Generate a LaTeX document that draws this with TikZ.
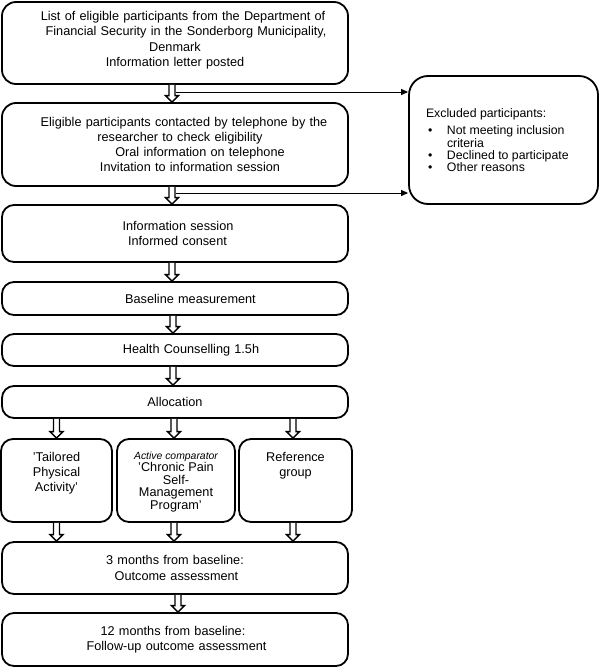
\documentclass[tikz,border=0pt]{standalone}
\usepackage{fontspec}
\setmainfont{Liberation Sans}
\usetikzlibrary{calc,arrows.meta}
\newcommand\hs[1]{\hspace*{#1pt}}
% hollow block arrow from #1 (shifted by #3 in x) down to the level of #2
\newcommand\harr[3]{%
  \draw[harrow] let \p1=($(#1)+(#3,0)$), \p2=(#2) in
    (\x1-3pt,\y1) -- (\x1-3pt,\y2+6.5pt) -- (\x1-6.5pt,\y2+6.5pt) -- (\x1,\y2)
    -- (\x1+6.5pt,\y2+6.5pt) -- (\x1+3pt,\y2+6.5pt) -- (\x1+3pt,\y1);}
\begin{document}
\begin{tikzpicture}[x=1pt,y=-1pt,
  box/.style={draw, line width=1.8pt, rounded corners=12pt, inner sep=0pt,
    align=center, font=\fontsize{12.7}{15.3}\selectfont},
  wide/.style={box, minimum width=346pt, text width=340pt},
  harrow/.style={draw, line width=1.3pt, fill=white, line join=miter},
  thinarr/.style={draw, line width=0.9pt, -{Triangle[length=7pt,width=6pt]}}]
\useasboundingbox (0,0) rectangle (600,667);

\node[wide, minimum height=82pt, rounded corners=14pt] (b1) at (175,43)
  {\hs{16}List of eligible participants from the Department of\\
   \hs{22}Financial Security in the Sonderborg Municipality,\\
   Denmark\\
   Information letter posted\rule[-8pt]{0pt}{8pt}};
\node[wide, minimum height=83pt, rounded corners=14pt] (b2) at (175,144.5)
  {\hs{18}Eligible participants contacted by telephone by the\\
   \hs{10}researcher to check eligibility\\
   \hs{50}Oral information on telephone\\
   \hs{30}Invitation to information session};
\node[wide, minimum height=57pt] (b3) at (175,233.5)
  {\hs{6}Information session\\ \hs{5}Informed consent};
\node[wide, minimum height=33pt] (b4) at (175,298.5) {\hs{31}Baseline measurement};
\node[wide, minimum height=32pt] (b5) at (175,350) {\hs{32}Health Counselling 1.5h};
\node[wide, minimum height=32pt] (b6) at (175,402) {Allocation};

\node[box, minimum width=111pt, minimum height=83pt] (t1) at (56.5,480.5)
  {\begin{minipage}[c][57pt][t]{105pt}\centering\fontsize{12.7}{15}\selectfont
   'Tailored\\ Physical\\ Activity'\end{minipage}};
\node[box, minimum width=118pt, minimum height=83pt] (t2) at (176,480.5)
  {\begin{minipage}[c][57pt][t]{112pt}\centering\fontsize{12.7}{12.4}\selectfont
   {\fontsize{10.4}{12}\selectfont\itshape Active comparator}\\
   'Chronic Pain\\ Self-\\ Management\\ Program'\end{minipage}};
\node[box, minimum width=113pt, minimum height=83pt] (t3) at (295.5,480.5)
  {\begin{minipage}[c][57pt][t]{107pt}\centering\fontsize{12.7}{15}\selectfont
   Reference\\ group\end{minipage}};

\node[wide, minimum height=52pt] (b7) at (175,568)
  {3 months from baseline:\\ \hs{3}Outcome assessment};
\node[wide, minimum height=53pt] (b8) at (175,639.5)
  {\hs{-4}12 months from baseline:\\ \hs{3}Follow-up outcome assessment};

\node[box, rounded corners=19pt, minimum width=189pt, minimum height=128pt] (ex) at (503.5,140)
  {\begin{minipage}{155pt}\raggedright\fontsize{12.3}{12.2}\selectfont
   Excluded participants:\\[5.5pt]
   \hs{2}\makebox[19pt][l]{•}Not meeting inclusion\\
   \hs{21}criteria\\
   \hs{2}\makebox[19pt][l]{•}Declined to participate\\
   \hs{2}\makebox[19pt][l]{•}Other reasons\end{minipage}};

% hollow flow arrows
\harr{b1.south}{b2.north}{-3}
\harr{b2.south}{b3.north}{-3}
\harr{b3.south}{b4.north}{-3}
\harr{b4.south}{b5.north}{-2}
\harr{b5.south}{b6.north}{-2}
\harr{t1.north |- b6.south}{t1.north}{0}
\harr{t2.north |- b6.south}{t2.north}{-2}
\harr{t3.north |- b6.south}{t3.north}{-2.5}
\harr{t1.south}{t1.south |- b7.north}{0}
\harr{t2.south}{t2.south |- b7.north}{-2}
\harr{t3.south}{t3.south |- b7.north}{-2.5}
\harr{b7.south}{b8.north}{3}

% exclusion arrows
\coordinate (e1) at (176,92);
\coordinate (e2) at (176,193);
\draw[thinarr] (e1) -- (e1 -| ex.west);
\draw[thinarr] (e2) -- (e2 -| ex.west);
\end{tikzpicture}
\end{document}
